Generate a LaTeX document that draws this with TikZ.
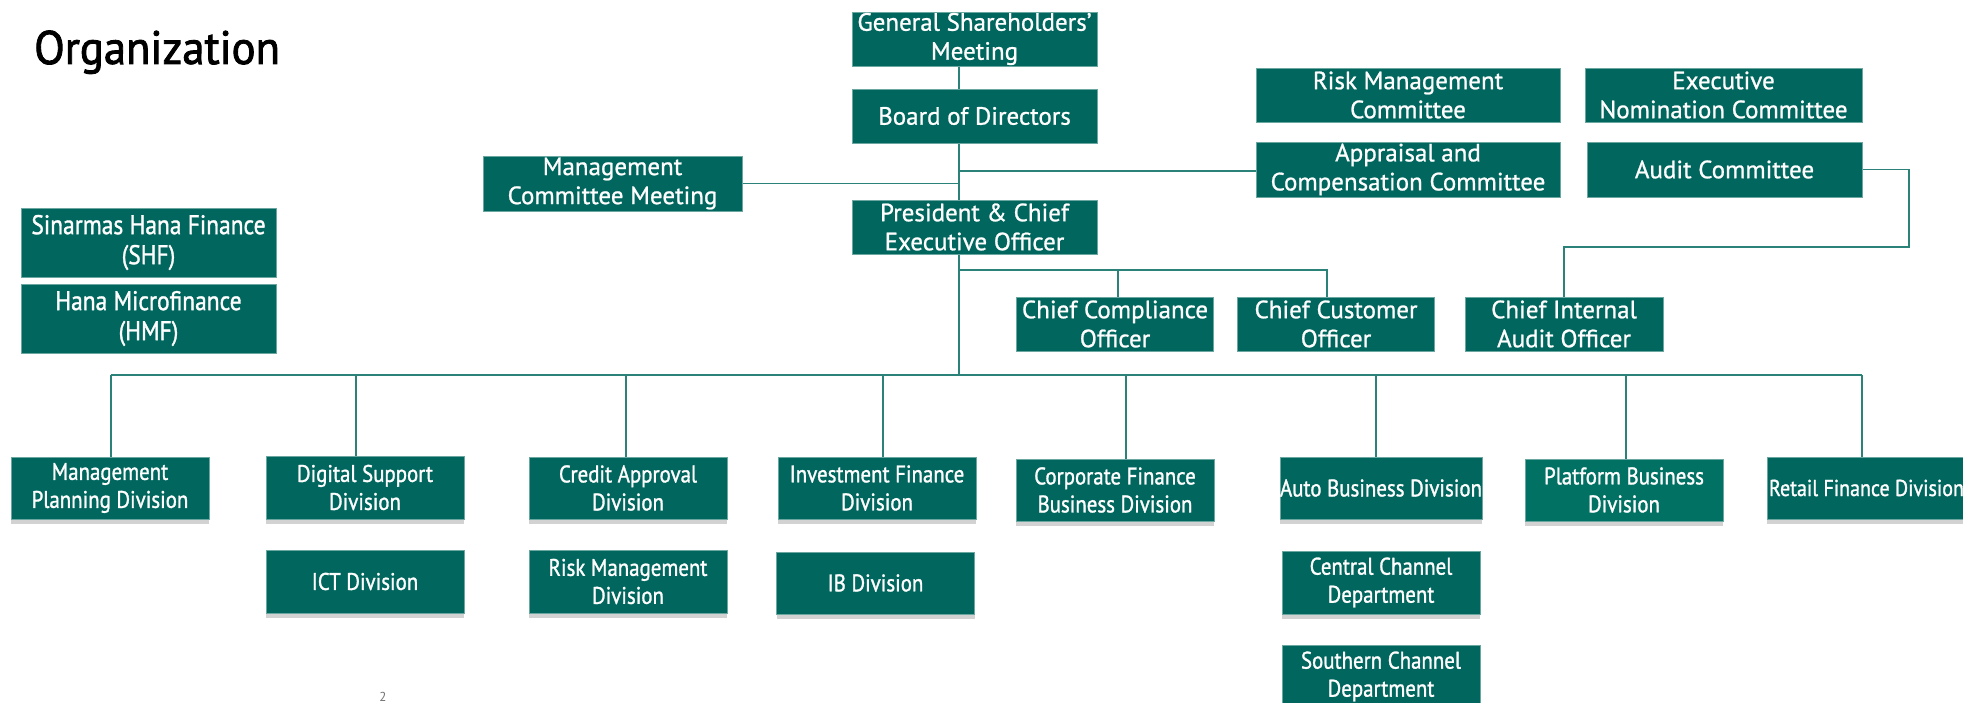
\documentclass[tikz,border=0pt]{standalone}
\usepackage{fontspec}
\setmainfont{PT Sans}
\newfontfamily\topfont{PT Sans}[FakeBold=0.9]
\newfontfamily\divfont{PT Sans}[FakeStretch=0.87, FakeBold=1.2]
\newfontfamily\titlefont{PT Sans}[FakeBold=1.8, FakeStretch=0.95]
\usetikzlibrary{shadows,backgrounds}
\definecolor{boxfill}{HTML}{00665E}
\definecolor{boxfillB}{HTML}{007163}
\definecolor{linec}{HTML}{2B8279}
\tikzset{
  basebox/.style={fill=boxfill, draw=linec!70, line width=0.8pt, text=white, inner sep=0pt, align=center},
  topbox/.style={basebox, font=\topfont\fontsize{25}{29}\selectfont},
  sidebox/.style={basebox, font=\divfont\fontsize{27}{30}\selectfont},
  divbox/.style={basebox, font=\divfont\fontsize{24}{28}\selectfont,
    minimum width=198pt, minimum height=62pt,
    drop shadow={shadow xshift=0pt, shadow yshift=-5pt, opacity=0.25, fill=black!70}},
  conn/.style={draw=linec, line width=1.8pt},
}
\begin{document}
\begin{tikzpicture}[x=1pt,y=-1pt]
\useasboundingbox (0,0) rectangle (1963,703);

% title
\node[anchor=base west, inner sep=0pt, font=\titlefont\fontsize{47}{52}\selectfont] (title) at (34,64) {Organization};

% top nodes
\node[topbox, minimum width=245pt, minimum height=54pt] (gsm) at (974.5,39) {General Shareholders’\\Meeting};
\node[topbox, minimum width=245pt, minimum height=54pt] (bod) at (974.5,116) {Board of Directors};
\node[topbox, minimum width=259pt, minimum height=55pt] (mcm) at (612.5,183.5) {Management\\Committee Meeting};
\node[topbox, minimum width=245pt, minimum height=54pt] (pceo) at (974.5,227) {President \& Chief\\Executive Officer};
\node[sidebox, minimum width=255pt, minimum height=69pt] (shf) at (148.5,242.5) {Sinarmas Hana Finance\\(SHF)};
\node[sidebox, minimum width=255pt, minimum height=69pt] (hmf) at (148.5,318.5) {Hana Microfinance\\(HMF)};
\node[topbox, minimum width=304pt, minimum height=54pt] (rmc) at (1408,95) {Risk Management\\Committee};
\node[topbox, minimum width=277pt, minimum height=54pt] (enc) at (1723.5,95) {Executive\\Nomination Committee};
\node[topbox, minimum width=304pt, minimum height=55pt] (acc) at (1408,169.5) {Appraisal and\\Compensation Committee};
\node[topbox, minimum width=275pt, minimum height=55pt] (auc) at (1724.5,169.5) {Audit Committee};
\node[topbox, minimum width=197pt, minimum height=54pt] (cco) at (1115,324) {Chief Compliance\\Officer};
\node[topbox, minimum width=197pt, minimum height=54pt] (ccuo) at (1336,324) {Chief Customer\\Officer};
\node[topbox, minimum width=198pt, minimum height=54pt] (ciao) at (1564,324) {Chief Internal\\Audit Officer};

% division nodes
\node[divbox] (mpd) at (110,488) {Management\\Planning Division};
\node[divbox, minimum height=63pt] (dsd) at (365,487.5) {Digital Support\\Division};
\node[divbox] (cad) at (628,488) {Credit Approval\\Division};
\node[divbox] (ifd) at (877,488) {Investment Finance\\Division};
\node[divbox] (cfbd) at (1115,490) {Corporate Finance\\Business Division};
\node[divbox] (abd) at (1381,488) {Auto Business Division};
\node[divbox, fill=boxfillB] (pbd) at (1624,490) {Platform Business\\Division};
\node[divbox, minimum width=199pt, font=\divfont\fontsize{23}{27}\selectfont] (rfd) at (1866.5,488) {Retail Finance Division};
\node[divbox, minimum height=63pt] (ict) at (365,581.5) {ICT Division};
\node[divbox, minimum height=63pt] (rmd) at (628,581.5) {Risk Management\\Division};
\node[divbox] (ibd) at (875.5,583) {IB Division};
\node[divbox, minimum height=63pt] (ccd) at (1381,582.5) {Central Channel\\Department};
\node[divbox, minimum height=63pt] (scd) at (1381,676.5) {Southern Channel\\Department};

% page number
\node[anchor=south, inner sep=0pt, text=black!55, font=\fontsize{13}{15}\selectfont] (pgno) at (383,702) {2};

% connectors (behind the boxes)
\coordinate (sp) at (959,0);
\coordinate (busL) at (111,375);
\coordinate (busR) at (1862,375);
\coordinate (br) at (959,270);
\coordinate (ac1) at (1909,247);

\begin{scope}[on background layer]
\fill[white] (0,0) rectangle (1963,703);
\draw[conn] (gsm.south -| sp) -- (bod.north -| sp);
\draw[conn] (bod.south -| sp) -- (sp |- busL);
\draw[conn] (mcm.east) -- (mcm.east -| sp);
\draw[conn] ([yshift=-1.5pt]acc.west) -- ([yshift=-1.5pt]acc.west -| sp);
\draw[conn] (br) -| ([xshift=-9pt]ccuo.north);
\draw[conn] ([xshift=3pt]cco.north) -- ([xshift=3pt]cco.north |- br);
\draw[conn] (auc.east) -| (ac1) -| (ciao.north);
\draw[conn] (busL) -- (busR);

\draw[conn] ([xshift=1pt]mpd.north) -- ([xshift=1pt]mpd.north |- busL);
\draw[conn] ([xshift=-9pt]dsd.north) -- ([xshift=-9pt]dsd.north |- busL);
\draw[conn] ([xshift=-2pt]cad.north) -- ([xshift=-2pt]cad.north |- busL);
\draw[conn] ([xshift=6pt]ifd.north) -- ([xshift=6pt]ifd.north |- busL);
\draw[conn] ([xshift=11pt]cfbd.north) -- ([xshift=11pt]cfbd.north |- busL);
\draw[conn] ([xshift=-5pt]abd.north) -- ([xshift=-5pt]abd.north |- busL);
\draw[conn] ([xshift=2pt]pbd.north) -- ([xshift=2pt]pbd.north |- busL);
\draw[conn] (rfd.north -| busR) -- (busR);
\end{scope}
\end{tikzpicture}
\end{document}
